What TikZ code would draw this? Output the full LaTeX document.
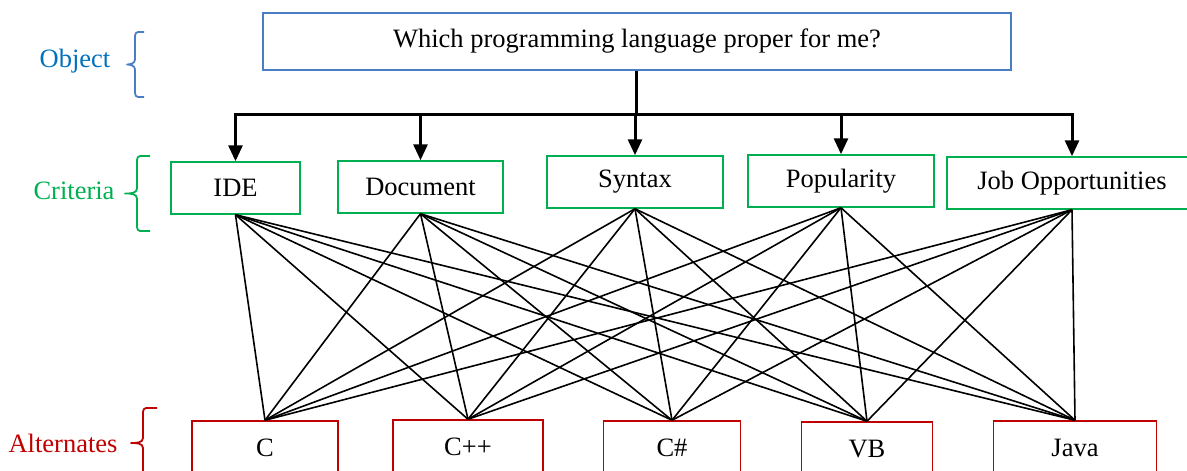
\documentclass[tikz,border=0pt]{standalone}
\usepackage{fontspec}
\setmainfont{Liberation Serif}
\usetikzlibrary{arrows.meta}
\definecolor{objblue}{HTML}{0070C0}
\definecolor{boxblue}{HTML}{4A7EC4}
\definecolor{crgreen}{HTML}{00B050}
\definecolor{altred}{HTML}{C00000}
\tikzset{
  lbl/.style={font=\fontsize{26.5}{30}\selectfont},
  objbox/.style={draw=boxblue, line width=1.5pt, minimum width=748pt, minimum height=57pt, font=\fontsize{26.5}{30}\selectfont},
  critbox/.style={draw=crgreen, line width=1.5pt, minimum height=52pt, font=\fontsize{26.5}{30}\selectfont},
  altbox/.style={draw=altred, line width=1.5pt, minimum height=54pt, font=\fontsize{26.5}{30}\selectfont},
  trunk/.style={line width=3pt},
  arr/.style={line width=3pt, -{Triangle[length=16pt,width=14pt]}},
  link/.style={line width=1.6pt},
  bracestyle/.style={line width=1.8pt, line join=round},
}
% side brace: color, x of ticks end, x of vertical, x of tip, top, bottom
\newcommand\sidebrace[6]{%
  \pgfmathsetmacro\bmid{(#5+#6)/2}%
  \draw[bracestyle, draw=#1] (#2,#5) -- (#3+3,#5) to[out=180,in=90] (#3,#5+4)
     -- (#3,\bmid-5) to[out=270,in=0] (#4,\bmid)
     to[out=0,in=90] (#3,\bmid+5) -- (#3,#6-4) to[out=270,in=180] (#3+3,#6) -- (#2,#6);}
\begin{document}
\begin{tikzpicture}[x=1pt,y=-1pt]
\useasboundingbox (0,0) rectangle (1187,471);
\clip (0,0) rectangle (1187,471);
% object
\node[objbox] (obj) at (637,41.5) {Which programming language proper for me?};
% criteria
\node[critbox, minimum width=129pt] (c1) at (235.5,188) {IDE};
\node[critbox, minimum width=165pt] (c2) at (420.5,187) {Document};
\node[critbox, minimum width=176pt] (c3) at (635,182) {Syntax};
\node[critbox, minimum width=186pt] (c4) at (841,181) {Popularity};
\node[critbox, minimum width=250pt] (c5) at (1072,183) {Job Opportunities};
% alternatives
\node[altbox, minimum width=146pt] (a1) at (265,448) {C};
\node[altbox, minimum width=150pt] (a2) at (468,447) {C++};
\node[altbox, minimum width=137pt] (a3) at (672,448) {C\#};
\node[altbox, minimum width=131pt] (a4) at (867,449) {VB};
\node[altbox, minimum width=163pt] (a5) at (1075,448) {Java};
% trunk
\coordinate (hub) at (636,114);
\draw[trunk] (obj.south -| hub) -- (hub);
\foreach \c in {c1,c2,c3,c4,c5}{
  \draw[arr] (hub) -| (\c.north);
}
% links
\foreach \c in {c1,c2,c3,c4,c5}{
  \foreach \a in {a1,a2,a3,a4,a5}{
    \draw[link] (\c.south) -- (\a.north);
  }
}
% side labels
\node[lbl, text=objblue] (lobj) at (75,61) {Object};
\node[lbl, text=crgreen] (lcrit) at (74,191) {Criteria};
\node[lbl, text=altred] (lalt) at (63,443) {Alternates};
\sidebrace{boxblue}{144}{135}{127}{32}{97}
\sidebrace{crgreen}{150}{137}{125}{156}{231}
\sidebrace{altred}{157}{143}{131}{408}{478}
\end{tikzpicture}
\end{document}
